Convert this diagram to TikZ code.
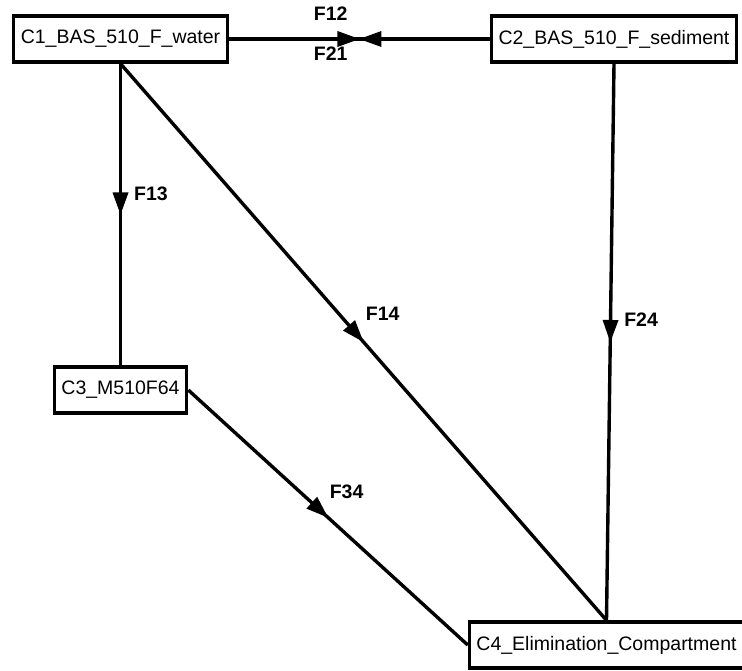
\documentclass[tikz,border=0pt]{standalone}
\usepackage{fontspec}
\setmainfont{Liberation Sans}
\usetikzlibrary{decorations.markings}
\tikzset{
  comp/.style={draw, line width=3.4pt, inner xsep=7pt, inner ysep=0pt, minimum height=46pt,
    font=\fontsize{19.5}{22}\selectfont},
  flow/.style={line width=3.4pt, postaction={decorate},
    decoration={markings, mark=at position 0.5 with
      {\fill (-22pt,8pt) -- (0pt,0pt) -- (-22pt,-8pt) -- cycle;}}},
  flab/.style={inner sep=0pt, font=\fontsize{19.5}{22}\selectfont\bfseries}
}
\begin{document}
\begin{tikzpicture}[x=1pt,y=-1pt]
	\useasboundingbox (0,0) rectangle (742,671);
	\node[comp] (c1) at (120.5,39) {C1\_BAS\_510\_F\_water};
	\node[comp] (c2) at (614,39) {C2\_BAS\_510\_F\_sediment};
	\node[comp] (c3) at (120.5,390) {C3\_M510F64};
	\node[comp] (c4) at (606.5,645) {C4\_Elimination\_Compartment};

	\draw[flow] (c1.east) -- node[flab,pos=0.39,above=17pt] {F12} (c2.west);
	\draw[flow] (c2.west) -- node[flab,pos=0.61,below=6pt] {F21} (c1.east);
	\draw[flow] (c1.south) -- node[flab,pos=0.43,right=12pt] {F13} (c3.north);
	\draw[flow] (c1.south) -- node[flab,pos=0.45,right=25pt] {F14} (c4.north);
	\draw[flow] (c2.south) -- node[flab,pos=0.46,right=12pt] {F24} (c4.north);
	\draw[flow] (c3.east) -- node[flab,pos=0.4,right=28pt] {F34} (c4.west);
\end{tikzpicture}
\end{document}
